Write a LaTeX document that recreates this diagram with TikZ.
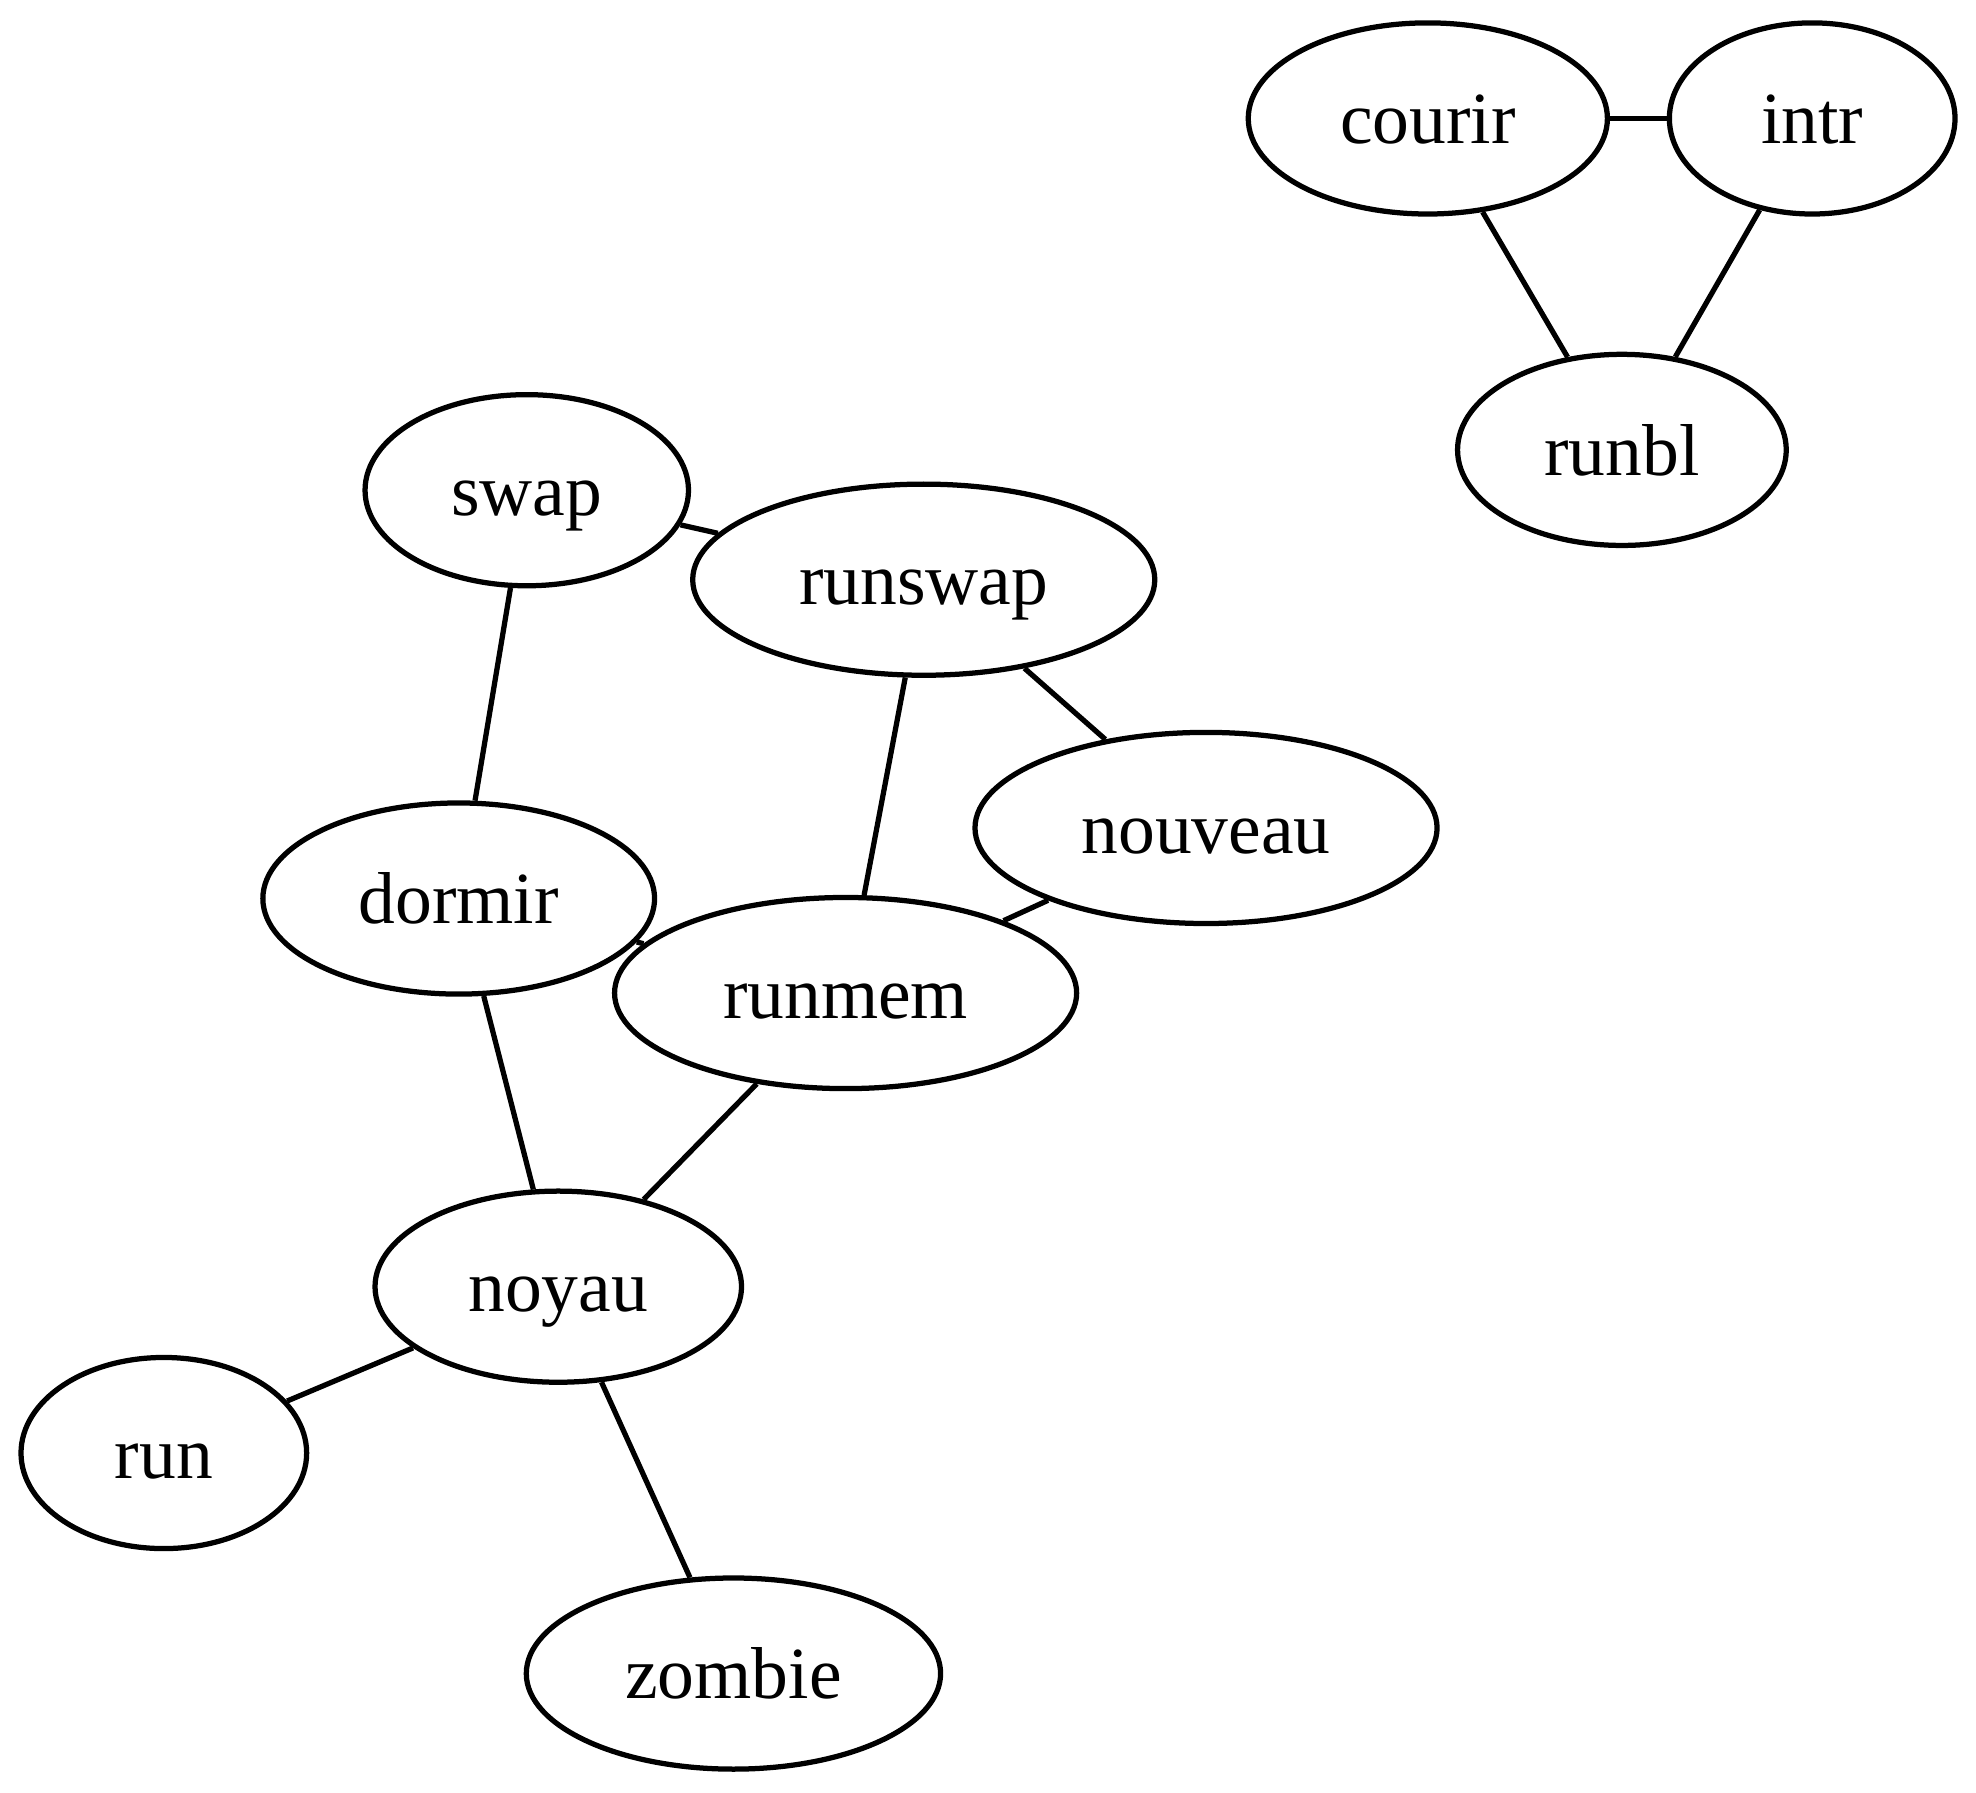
\documentclass[tikz,border=0pt]{standalone}
\usepackage{fontspec}
\setmainfont{Liberation Serif}
\usetikzlibrary{shapes.geometric}
\begin{document}
\begin{tikzpicture}[x=0.24pt,y=-0.24pt,
  nd/.style={draw,ellipse,line width=1pt,inner sep=0pt,minimum height=36.4pt,text height=9.6pt,text depth=0pt,font=\fontsize{14pt}{16pt}\selectfont},
  ed/.style={line width=1pt}]
\useasboundingbox (0,0) rectangle (1568,1422);
\node[nd,minimum width=68.4pt] (courir) at (1133,94) {courir};
\node[nd,minimum width=54.4pt] (intr) at (1438,94) {intr};
\node[nd,minimum width=62.6pt] (runbl) at (1287,357) {runbl};
\node[nd,minimum width=61.6pt] (swap) at (418,389) {swap};
\node[nd,minimum width=88pt] (runswap) at (733,460) {runswap};
\node[nd,minimum width=88pt] (nouveau) at (957,657) {nouveau};
\node[nd,minimum width=74.6pt] (dormir) at (364,713) {dormir};
\node[nd,minimum width=88pt] (runmem) at (671,788) {runmem};
\node[nd,minimum width=69.8pt] (noyau) at (443,1021) {noyau};
\node[nd,minimum width=54.4pt] (run) at (130,1153) {run};
\node[nd,minimum width=78.9pt] (zombie) at (582,1328) {zombie};
\draw[ed] (courir) -- (intr);
\draw[ed] (courir) -- (runbl);
\draw[ed] (intr) -- (runbl);
\draw[ed] (swap) -- (runswap);
\draw[ed] (swap) -- (dormir);
\draw[ed] (runswap) -- (runmem);
\draw[ed] (runswap) -- (nouveau);
\draw[ed] (nouveau) -- (runmem);
\draw[ed] (dormir) -- (runmem);
\draw[ed] (dormir) -- (noyau);
\draw[ed] (runmem) -- (noyau);
\draw[ed] (noyau) -- (run);
\draw[ed] (noyau) -- (zombie);
\end{tikzpicture}
\end{document}
